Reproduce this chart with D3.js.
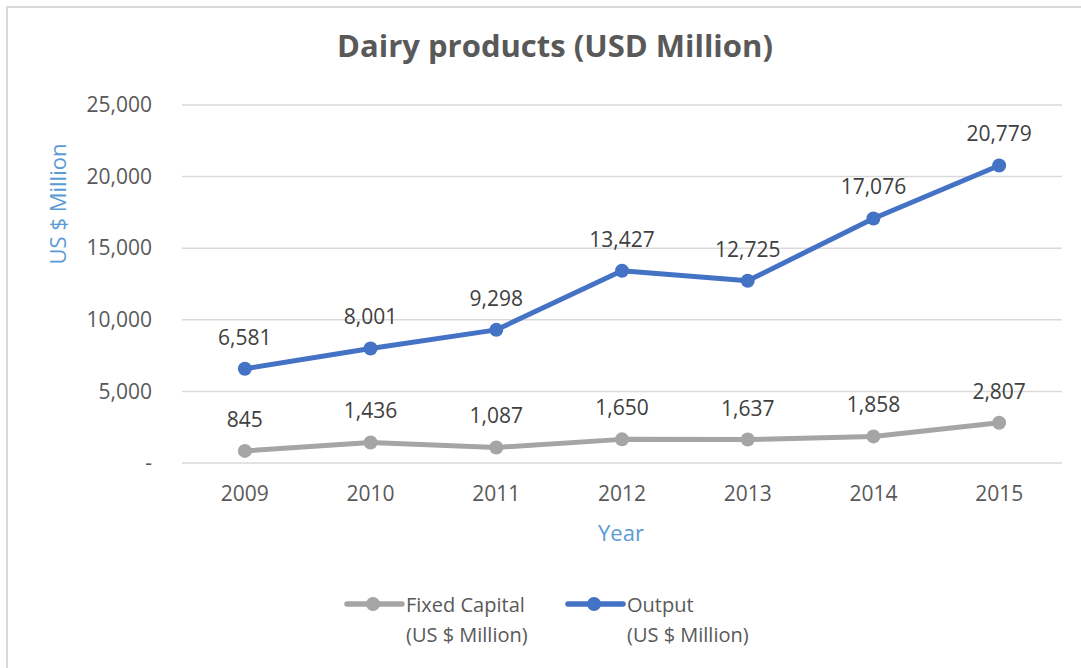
<!DOCTYPE html>
<html>
<head>
<meta charset="utf-8">
<script src="https://cdn.jsdelivr.net/npm/d3@7"></script>
<style>
  body { margin: 0; background: #fff; }
  text { font-family: "Open Sans", sans-serif; }
</style>
</head>
<body>
<script>
// chart data
var years = ["2009", "2010", "2011", "2012", "2013", "2014", "2015"];
var fixedCapital = [845, 1436, 1087, 1650, 1637, 1858, 2807];
var output = [6581, 8001, 9298, 13427, 12725, 17076, 20779];
var yTicks = [0, 5000, 10000, 15000, 20000, 25000];

var seriesNames = ["Fixed Capital", "Output"];
var seriesColors = ["#A5A5A5", "#4472C4"];

const W = 1081, H = 668;
const margin = {top: 105, left: 182, right: 19, bottom: 205};
const width = W - margin.left - margin.right,
    height = H - margin.top - margin.bottom;

var svg = d3.select("body")
    .append("svg")
    .attr("width", W)
    .attr("height", H);

// chart frame (only left and top edges are in view)
svg.append("path")
    .attr("d", "M7,668 V7 H1081")
    .attr("fill", "none")
    .attr("stroke", "#D9D9D9")
    .attr("stroke-width", 2);

// title
svg.append("text")
    .attr("x", 555)
    .attr("y", 57)
    .attr("text-anchor", "middle")
    .attr("font-size", 31)
    .attr("font-weight", "bold")
    .attr("fill", "#595959")
    .text("Dairy products (USD Million)");

var g = svg.append("g")
    .attr("transform", "translate(" + margin.left + "," + margin.top + ")");

var x = d3.scaleBand()
    .domain(years)
    .range([0, width]);

var y = d3.scaleLinear()
    .domain([0, 25000])
    .range([height, 0]);

var cx = function(d, i) { return x(years[i]) + x.bandwidth() / 2; };

// gridlines
g.selectAll(".grid")
    .data(yTicks)
    .enter().append("line")
    .attr("x1", 0)
    .attr("x2", width)
    .attr("y1", function(d) { return y(d); })
    .attr("y2", function(d) { return y(d); })
    .attr("stroke", "#D9D9D9")
    .attr("stroke-width", 1.5);

// y axis labels
var yAxis = g.append("g")
    .call(d3.axisLeft(y).tickValues(yTicks).tickSize(0).tickPadding(30)
        .tickFormat(function(d) { return d === 0 ? "-" : d3.format(",")(d); }));
yAxis.select(".domain").remove();
yAxis.selectAll("text")
    .attr("font-size", 21)
    .attr("fill", "#595959")
    .style("font-family", "'Open Sans', sans-serif");

// x axis labels
var xAxis = g.append("g")
    .attr("transform", "translate(0," + height + ")")
    .call(d3.axisBottom(x).tickSize(0).tickPadding(23));
xAxis.select(".domain").remove();
xAxis.selectAll("text")
    .attr("font-size", 21)
    .attr("fill", "#595959")
    .style("font-family", "'Open Sans', sans-serif");

// axis titles
svg.append("text")
    .attr("transform", "translate(66,204) rotate(-90)")
    .attr("text-anchor", "middle")
    .attr("font-size", 22)
    .attr("fill", "#5B9BD5")
    .text("US $ Million");

svg.append("text")
    .attr("x", 621)
    .attr("y", 541)
    .attr("text-anchor", "middle")
    .attr("font-size", 22)
    .attr("fill", "#5B9BD5")
    .text("Year");

// lines, markers, labels
var line = d3.line()
    .x(cx)
    .y(function(d) { return y(d); });

[fixedCapital, output].forEach(function(series, k) {
    g.append("path")
        .datum(series)
        .attr("fill", "none")
        .attr("stroke", seriesColors[k])
        .attr("stroke-width", 5)
        .attr("stroke-linejoin", "round")
        .attr("d", line);

    g.selectAll(".dot" + k)
        .data(series)
        .enter().append("circle")
        .attr("cx", cx)
        .attr("cy", function(d) { return y(d); })
        .attr("r", 7)
        .attr("fill", seriesColors[k]);

    g.selectAll(".lbl" + k)
        .data(series)
        .enter().append("text")
        .attr("x", cx)
        .attr("y", function(d) { return y(d) - 24; })
        .attr("text-anchor", "middle")
        .attr("font-size", 21)
        .attr("fill", "#404040")
        .text(function(d) { return d3.format(",")(d); });
});

// legend
var legendX = [347, 568];
seriesNames.forEach(function(name, k) {
    var lg = svg.append("g")
        .attr("transform", "translate(" + legendX[k] + ",604)");
    lg.append("line")
        .attr("x1", 0).attr("x2", 55)
        .attr("stroke", seriesColors[k])
        .attr("stroke-width", 5.5)
        .attr("stroke-linecap", "round");
    lg.append("circle")
        .attr("cx", 26)
        .attr("r", 7)
        .attr("fill", seriesColors[k]);
    lg.append("text")
        .attr("x", 59)
        .attr("y", 8)
        .attr("font-size", 20)
        .attr("fill", "#595959")
        .text(name);
    lg.append("text")
        .attr("x", 59)
        .attr("y", 38)
        .attr("font-size", 20)
        .attr("fill", "#595959")
        .text("(US $ Million)");
});
</script>
</body>
</html>
